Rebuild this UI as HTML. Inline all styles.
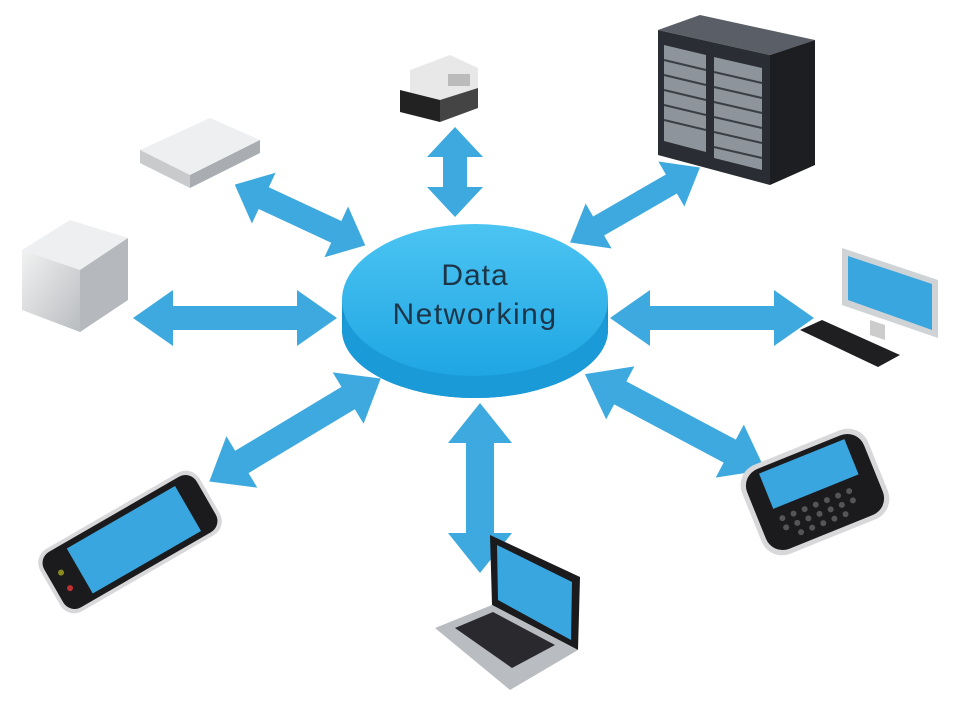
<!DOCTYPE html>
<html><head><meta charset="utf-8"><style>
html,body{margin:0;padding:0;background:#fff;}
svg{display:block}
</style></head><body>
<svg width="958" height="719" viewBox="0 0 958 719" xmlns="http://www.w3.org/2000/svg">
<defs>
<linearGradient id="disc" x1="0" y1="0" x2="0" y2="1">
<stop offset="0" stop-color="#4cc4f2"/><stop offset="1" stop-color="#1fa6e3"/></linearGradient>
<linearGradient id="gray" x1="0" y1="0" x2="1" y2="1">
<stop offset="0" stop-color="#f2f2f2"/><stop offset="1" stop-color="#b9bcc0"/></linearGradient>
</defs>
<g fill="#3ea9df">
<polygon transform="translate(455,172) rotate(90)" points="-45,0 -15,-28 -15,-12 15,-12 15,-28 45,0 15,28 15,12 -15,12 -15,28"/>
<polygon transform="translate(300,215) rotate(25)" points="-72,0 -40,-28 -40,-12 40,-12 40,-28 72,0 40,28 40,12 -40,12 -40,28"/>
<polygon transform="translate(235,318)" points="-102,0 -62,-28 -62,-12 62,-12 62,-28 102,0 62,28 62,12 -62,12 -62,28"/>
<polygon transform="translate(295,430) rotate(-31)" points="-100,0 -62,-30 -62,-13 62,-13 62,-30 100,0 62,30 62,13 -62,13 -62,30"/>
<polygon transform="translate(480,488) rotate(90)" points="-85,0 -45,-32 -45,-14 45,-14 45,-32 85,0 45,32 45,14 -45,14 -45,32"/>
<polygon transform="translate(675,422) rotate(28)" points="-102,0 -62,-30 -62,-13 62,-13 62,-30 102,0 62,30 62,13 -62,13 -62,30"/>
<polygon transform="translate(712,318)" points="-102,0 -62,-28 -62,-12 62,-12 62,-28 102,0 62,28 62,12 -62,12 -62,28"/>
<polygon transform="translate(635,205) rotate(-30)" points="-75,0 -42,-26 -42,-11 42,-11 42,-26 75,0 42,26 42,11 -42,11 -42,26"/>
</g>
<path d="M342,300 L342,330 A133,68 0 0 0 608,330 L608,300 Z" fill="#1792cf"/>
<ellipse cx="475" cy="330" rx="133" ry="68" fill="#1a9ad6"/>
<ellipse cx="475" cy="300" rx="133" ry="76" fill="url(#disc)"/>
<text x="475" y="285" font-family="Liberation Sans, sans-serif" font-size="30" fill="#1d3548" text-anchor="middle" letter-spacing="1">Data</text>
<text x="475" y="324" font-family="Liberation Sans, sans-serif" font-size="30" fill="#1d3548" text-anchor="middle" letter-spacing="1.5">Networking</text>
<!-- printer -->
<polygon points="410,70 450,55 478,68 478,108 440,122 410,108" fill="#e8e8e8"/>
<polygon points="400,90 440,100 440,122 400,112" fill="#222"/>
<polygon points="440,100 478,88 478,108 440,122" fill="#444"/>
<rect x="448" y="74" width="22" height="12" fill="#bbb"/>
<!-- server rack -->
<polygon points="658,30 700,15 815,40 770,55" fill="#5a5e66"/>
<polygon points="658,30 770,55 770,185 658,155" fill="#2a2d33"/>
<polygon points="770,55 815,40 815,165 770,185" fill="#1c1e22"/>
<polygon points="664,45 706,55 706,152 664,141" fill="#8d949c"/>
<polygon points="714,57 762,68 762,170 714,158" fill="#8d949c"/>
<g stroke="#3a3e45" stroke-width="2">
<line x1="664" y1="60" x2="706" y2="70"/><line x1="664" y1="75" x2="706" y2="85"/><line x1="664" y1="90" x2="706" y2="100"/><line x1="664" y1="105" x2="706" y2="115"/><line x1="664" y1="120" x2="706" y2="130"/>
<line x1="714" y1="72" x2="762" y2="83"/><line x1="714" y1="87" x2="762" y2="98"/><line x1="714" y1="102" x2="762" y2="113"/><line x1="714" y1="117" x2="762" y2="128"/><line x1="714" y1="132" x2="762" y2="143"/><line x1="714" y1="147" x2="762" y2="158"/>
</g>
<!-- router -->
<polygon points="140,150 210,118 260,140 190,175" fill="#eeeff0"/>
<polygon points="140,150 190,175 190,188 140,163" fill="#c8cacc"/>
<polygon points="190,175 260,140 260,153 190,188" fill="#a9acb0"/>
<!-- tower -->
<polygon points="22,250 70,220 128,238 80,270" fill="#eeeff0"/>
<polygon points="22,250 80,270 80,332 22,310" fill="url(#gray)"/>
<polygon points="80,270 128,238 128,300 80,332" fill="#b5b8bc"/>
<!-- monitor -->
<polygon points="842,248 938,280 938,338 842,305" fill="#cfd3d6"/>
<polygon points="848,256 932,284 932,330 848,300" fill="#3aa6df"/>
<polygon points="870,320 885,325 885,340 870,335" fill="#ccc"/>
<polygon points="800,330 822,320 900,355 878,367" fill="#1f1f22"/>
<!-- phone -->
<g transform="translate(130,542) rotate(-30)">
<rect x="-92" y="-36" width="184" height="72" rx="16" fill="#d8d8da"/>
<rect x="-88" y="-32" width="176" height="64" rx="13" fill="#1b1b1e"/>
<rect x="-58" y="-26" width="125" height="52" fill="#3aa6df"/>
<circle cx="-75" cy="-8" r="3" fill="#8a8a20"/><circle cx="-75" cy="10" r="3" fill="#c03030"/>
</g>
<!-- blackberry -->
<g transform="translate(815,492) rotate(-22)">
<rect x="-68" y="-48" width="136" height="96" rx="22" fill="#d8d8da"/>
<rect x="-63" y="-43" width="126" height="86" rx="18" fill="#1b1b1e"/>
<rect x="-45" y="-38" width="92" height="38" fill="#3aa6df"/>
<g fill="#555">
<circle cx="-40" cy="12" r="3"/><circle cx="-28" cy="12" r="3"/><circle cx="-16" cy="12" r="3"/><circle cx="-4" cy="12" r="3"/><circle cx="8" cy="12" r="3"/><circle cx="20" cy="12" r="3"/><circle cx="32" cy="12" r="3"/>
<circle cx="-40" cy="22" r="3"/><circle cx="-28" cy="22" r="3"/><circle cx="-16" cy="22" r="3"/><circle cx="-4" cy="22" r="3"/><circle cx="8" cy="22" r="3"/><circle cx="20" cy="22" r="3"/><circle cx="32" cy="22" r="3"/>
<circle cx="-28" cy="32" r="3"/><circle cx="-16" cy="32" r="3"/><circle cx="-4" cy="32" r="3"/><circle cx="8" cy="32" r="3"/><circle cx="20" cy="32" r="3"/>
</g>
</g>
<!-- laptop -->
<polygon points="490,535 580,577 578,650 492,605" fill="#1b1b1e"/>
<polygon points="497,545 572,582 571,640 498,600" fill="#3aa6df"/>
<polygon points="435,628 492,605 578,650 510,690" fill="#b9bcc0"/>
<polygon points="455,628 493,612 555,645 512,668" fill="#2a2a2e"/>
</svg>
</body></html>
